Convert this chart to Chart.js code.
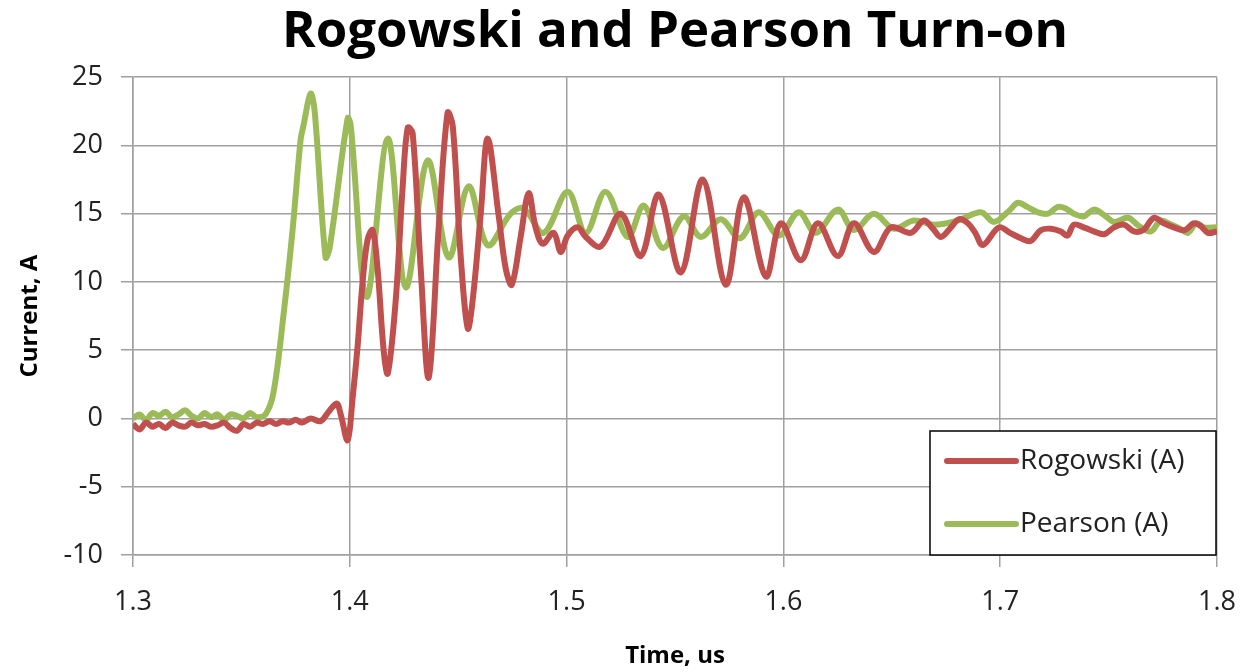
<!DOCTYPE html>
<html>
<head>
<meta charset="utf-8">
<script src="https://cdn.jsdelivr.net/npm/chart.js@4/dist/chart.umd.min.js"></script>
<style>
  html, body { margin: 0; padding: 0; background: #fff; }
  #wrap { width: 1250px; height: 672px; }
</style>
</head>
<body>
<div id="wrap"><canvas id="chart" width="1250" height="672"></canvas></div>
<script>
// values
const rogowskiT = [
  1.300, 1.303, 1.306, 1.309, 1.312, 1.315, 1.318, 1.321, 1.324, 1.327,
  1.330, 1.333, 1.336, 1.339, 1.342, 1.345, 1.348, 1.351, 1.354, 1.357,
  1.360, 1.363, 1.366, 1.369, 1.372, 1.375, 1.378, 1.3819, 1.3865, 1.3898,
  1.3939, 1.3958, 1.3990, 1.4013, 1.4036, 1.4059, 1.4082, 1.4105, 1.4128, 1.4156,
  1.4175, 1.4212, 1.4244, 1.4267, 1.4290, 1.4327, 1.4364, 1.4410, 1.4451, 1.4475,
  1.4511, 1.4544, 1.4567, 1.4604, 1.4636, 1.4687, 1.4719, 1.4747, 1.4788, 1.4825,
  1.4857, 1.4890, 1.4940, 1.4973, 1.5005, 1.5051, 1.5088, 1.5157, 1.5250, 1.5342,
  1.5425, 1.5527, 1.5628, 1.5734, 1.5817, 1.5919, 1.5988, 1.6080, 1.6159, 1.6251,
  1.6325, 1.6417, 1.6496, 1.6588, 1.6648, 1.6690, 1.6727, 1.6773, 1.6810, 1.6851,
  1.6885, 1.6920, 1.6994, 1.7045, 1.7096, 1.7140, 1.7188, 1.7235, 1.7280, 1.7310,
  1.7340, 1.7385, 1.7432, 1.7480, 1.7525, 1.7570, 1.7617, 1.7660, 1.7709, 1.7755,
  1.7801, 1.7850, 1.7894, 1.7925, 1.7958, 1.8000
];
const rogowskiA = [
  -0.4, -0.8, -0.3, -0.6, -0.4, -0.7, -0.3, -0.5, -0.6, -0.3,
  -0.5, -0.4, -0.6, -0.5, -0.3, -0.7, -0.9, -0.4, -0.6, -0.3,
  -0.4, -0.2, -0.4, -0.2, -0.3, -0.1, -0.3, 0.0, -0.2, 0.4,
  1.1, 0.3, -1.6, 1.5, 5.3, 10.0, 13.1, 13.8, 11.0, 5.0,
  3.3, 8.7, 17.0, 21.3, 20.9, 11.0, 3.0, 14.0, 22.4, 21.4,
  12.0, 6.6, 8.7, 15.0, 20.5, 14.8, 11.0, 9.8, 13.3, 16.5,
  14.0, 12.8, 13.6, 12.2, 13.4, 14.0, 13.3, 12.6, 15.0, 11.9,
  16.4, 10.7, 17.5, 9.8, 16.2, 10.4, 14.3, 11.6, 14.3, 11.9,
  14.3, 12.2, 14.0, 13.6, 14.5, 13.9, 13.3, 14.0, 14.6, 14.3,
  13.6, 12.7, 14.0, 13.6, 13.2, 13.0, 13.8, 13.9, 13.7, 13.4,
  14.2, 14.0, 13.7, 13.5, 14.0, 14.2, 13.7, 13.8, 14.7, 14.3,
  14.0, 13.8, 14.3, 14.1, 13.6, 13.7
];

const pearsonT = [
  1.300, 1.303, 1.306, 1.309, 1.312, 1.315, 1.318, 1.321, 1.324, 1.327,
  1.330, 1.333, 1.336, 1.339, 1.342, 1.345, 1.348, 1.351, 1.354, 1.357,
  1.3611, 1.3648, 1.3695, 1.3736, 1.3773, 1.3787, 1.3819, 1.3838, 1.3888, 1.3907,
  1.3990, 1.4004, 1.4078, 1.4175, 1.4258, 1.4359, 1.4456, 1.4548, 1.4636, 1.4742,
  1.4802, 1.4894, 1.5005, 1.5088, 1.5180, 1.5282, 1.5356, 1.5443, 1.5540, 1.5619,
  1.5711, 1.5799, 1.5886, 1.5979, 1.6071, 1.6149, 1.6251, 1.6325, 1.6417, 1.6509,
  1.6601, 1.6694, 1.6805, 1.6911, 1.6971, 1.7040, 1.7082, 1.7125, 1.7174, 1.7220,
  1.7266, 1.7300, 1.7340, 1.7385, 1.7432, 1.7480, 1.7525, 1.7589, 1.7640, 1.7695,
  1.7740, 1.7788, 1.7830, 1.7866, 1.7905, 1.7940, 1.8000
];
const pearsonA = [
  0.0, 0.3, -0.1, 0.4, 0.2, 0.5, 0.1, 0.3, 0.6, 0.2,
  0.0, 0.4, 0.1, 0.3, -0.1, 0.3, 0.2, 0.0, 0.4, 0.1,
  0.3, 1.9, 7.7, 13.8, 20.4, 21.5, 23.8, 22.5, 11.8, 12.5,
  22.0, 21.5, 8.9, 20.5, 9.6, 18.9, 11.8, 17.0, 12.7, 15.0,
  15.4, 13.6, 16.6, 13.6, 16.6, 13.3, 15.6, 12.5, 14.8, 13.3,
  14.6, 13.2, 15.1, 13.4, 15.1, 13.6, 15.3, 13.8, 15.0, 13.9,
  14.5, 14.2, 14.5, 15.1, 14.4, 15.2, 15.8, 15.5, 15.1, 15.0,
  15.5, 15.4, 15.0, 14.8, 15.3, 14.9, 14.4, 14.7, 14.1, 13.7,
  14.5, 14.2, 13.9, 13.6, 14.3, 14.0, 14.0
];

const seriesNames = ['Rogowski (A)', 'Pearson (A)'];
const seriesColors = ['#C0504D', '#9BBB59'];
const xTicks = [1.3, 1.4, 1.5, 1.6, 1.7, 1.8];
const yTicks = [-10, -5, 0, 5, 10, 15, 20, 25];

const toPoints = (ts, vs) => ts.map((t, i) => ({ x: t, y: vs[i] }));

// legend box drawn inside the plot, bottom right
const boxLegend = {
  id: 'boxLegend',
  afterDraw(chart) {
    const ctx = chart.ctx;
    const area = chart.chartArea;
    const w = 286, h = 124;
    const x0 = area.right - w - 1, y0 = area.bottom - h;
    ctx.save();
    ctx.fillStyle = '#fff';
    ctx.fillRect(x0, y0, w, h);
    ctx.strokeStyle = '#000';
    ctx.lineWidth = 1.5;
    ctx.strokeRect(x0, y0, w, h);
    ctx.font = '28px "Open Sans"';
    ctx.textBaseline = 'middle';
    chart.data.datasets.forEach((ds, i) => {
      const yy = y0 + 30 + i * 63;
      ctx.strokeStyle = ds.borderColor;
      ctx.lineWidth = 6;
      ctx.lineCap = 'round';
      ctx.beginPath();
      ctx.moveTo(x0 + 17, yy);
      ctx.lineTo(x0 + 86, yy);
      ctx.stroke();
      ctx.fillStyle = '#222';
      ctx.fillText(ds.label, x0 + 90, yy);
    });
    ctx.restore();
  }
};

new Chart(document.getElementById('chart'), {
  type: 'line',
  data: {
    datasets: [
      {
        label: seriesNames[0],
        data: toPoints(rogowskiT, rogowskiA),
        borderColor: seriesColors[0],
        backgroundColor: seriesColors[0],
        borderWidth: 6,
        pointRadius: 0,
        tension: 0.35
      },
      {
        label: seriesNames[1],
        data: toPoints(pearsonT, pearsonA),
        borderColor: seriesColors[1],
        backgroundColor: seriesColors[1],
        borderWidth: 6,
        pointRadius: 0,
        tension: 0.35
      }
    ]
  },
  options: {
    responsive: false,
    animation: false,
    layout: { padding: { top: 0, right: 33, bottom: 0, left: 0 } },
    plugins: {
      legend: { display: false },
      tooltip: { enabled: false },
      title: {
        display: true,
        fullSize: false,
        text: 'Rogowski and Pearson Turn-on',
        color: '#000',
        font: { family: 'Open Sans', size: 51, weight: 'bold', lineHeight: 1.2 },
        padding: { top: 2, bottom: 14 }
      }
    },
    scales: {
      x: {
        type: 'linear',
        min: 1.3,
        max: 1.8,
        afterBuildTicks: (s) => { s.ticks = xTicks.map(v => ({ value: v })); },
        afterFit: (s) => { s.height = 117; s.paddingLeft = 0; s.paddingRight = 0; },
        ticks: {
          color: '#222',
          font: { family: 'Open Sans', size: 27 },
          padding: 19,
          callback: (v) => v.toFixed(1)
        },
        grid: { color: '#a0a0a0', lineWidth: 1.5, tickLength: 12 },
        border: { color: '#a0a0a0', width: 1.5 },
        title: {
          display: true,
          text: 'Time, us',
          color: '#000',
          font: { family: 'Open Sans', size: 24, weight: 'bold' },
          padding: { top: 0, bottom: 1 }
        }
      },
      y: {
        min: -10,
        max: 25,
        afterBuildTicks: (s) => { s.ticks = yTicks.map(v => ({ value: v })); },
        afterFit: (s) => { s.width = 133; },
        ticks: {
          color: '#222',
          font: { family: 'Open Sans', size: 27 },
          padding: 18
        },
        grid: { color: '#a0a0a0', lineWidth: 1.5, tickLength: 12 },
        border: { color: '#a0a0a0', width: 1.5 },
        title: {
          display: true,
          text: 'Current, A',
          color: '#000',
          font: { family: 'Open Sans', size: 24, weight: 'bold' },
          padding: { top: 16, bottom: 0 }
        }
      }
    }
  },
  plugins: [boxLegend]
});
</script>
</body>
</html>
